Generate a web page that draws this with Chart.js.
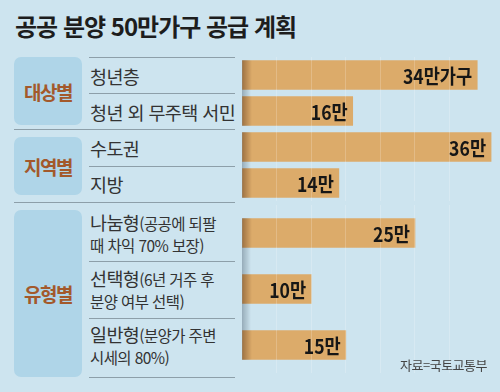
<!DOCTYPE html>
<html lang="ko">
<head>
<meta charset="utf-8">
<script src="https://cdn.jsdelivr.net/npm/chart.js@4"></script>
<style>
  body { margin: 0; background: #cde4ef; }
  #wrap { position: relative; width: 500px; height: 392px; overflow: hidden; background: #cde4ef; font-family: "Noto Sans CJK KR", sans-serif; color: #333; }
  .title { position: absolute; left: 15px; top: 11px; font-size: 24px; line-height: 30px; font-weight: 700; color: #1d1d1d; letter-spacing: -1px; white-space: nowrap; }
  .box { position: absolute; left: 14px; width: 68px; border-radius: 7px; background: #afd5e8; display: flex; align-items: center; justify-content: center; color: #a3592b; font-weight: 700; font-size: 19px; letter-spacing: -1.5px; }
  .sep { position: absolute; height: 1px; background: #8d9fa9; }
  .row { position: absolute; left: 90px; font-size: 18.5px; letter-spacing: -0.6px; line-height: 22px; white-space: nowrap; color: #333; }
  .row small { font-size: 15.5px; letter-spacing: -0.6px; }
  .plot { position: absolute; left: 242px; }
  .src { position: absolute; right: 13px; top: 356px; font-size: 13px; line-height: 18px; color: #444; letter-spacing: -0.5px; }
</style>
</head>
<body>
<div id="wrap">
  <div class="title">공공 분양 50만가구 공급 계획</div>
  <div class="plot" style="top:57px"><canvas id="c1" width="256" height="72"></canvas></div>
  <div class="plot" style="top:129px"><canvas id="c2" width="256" height="72"></canvas></div>
  <div class="plot" style="top:205px"><canvas id="c3" width="256" height="168"></canvas></div>
  <div class="src">자료=국토교통부</div>
</div>
<script>
// data
const groupNames = ['대상별', '지역별', '유형별'];
const targetCats = ['청년층', '청년 외 무주택 서민'];
const targetValues = [34, 16];
const regionCats = ['수도권', '지방'];
const regionValues = [36, 14];
const typeCats = ['나눔형', '선택형', '일반형'];
const typeNotes = [
    ['(공공에 되팔', '때 차익 70% 보장)'],
    ['(6년 거주 후', '분양 여부 선택)'],
    ['(분양가 주변', '시세의 80%)']
];
const typeValues = [25, 10, 15];
const firstUnit = '만가구';
const unit = '만';

const wrap = document.getElementById('wrap');

// layout pieces (boxes + separator rules)
const boxes = [[57, 125], [137, 195], [210, 377]];
const rules = [[57, 89], [93, 89], [129, 14], [166, 89], [202, 14], [261, 89], [318, 89], [377, 89]];

boxes.forEach((b, i) => {
    const el = document.createElement('div');
    el.className = 'box';
    el.style.top = b[0] + 'px';
    el.style.height = (b[1] - b[0]) + 'px';
    el.textContent = groupNames[i];
    wrap.appendChild(el);
});

rules.forEach(r => {
    const el = document.createElement('div');
    el.className = 'sep';
    el.style.top = r[0] + 'px';
    el.style.left = r[1] + 'px';
    el.style.width = (235 - r[1]) + 'px';
    wrap.appendChild(el);
});

function barFill(c) {
    const area = c.chart.chartArea;
    if (!area) return '#dcab6a';
    const g = c.chart.ctx.createLinearGradient(area.left, 0, area.left + 10, 0);
    g.addColorStop(0, '#9c7142');
    g.addColorStop(1, '#dcab6a');
    return g;
}

// grey shadow on the left edge between bars of one group
const shadowPlugin = {
    id: 'shadow',
    beforeDatasetsDraw(chart) {
        const bars = chart.getDatasetMeta(0).data;
        if (!bars.length) return;
        const ctx = chart.ctx;
        const left = chart.chartArea.left;
        const top = bars[0].y - bars[0].height / 2;
        const bottom = bars[bars.length - 1].y + bars[bars.length - 1].height / 2;
        const g = ctx.createLinearGradient(left, 0, left + 9, 0);
        g.addColorStop(0, 'rgba(85,105,120,0.45)');
        g.addColorStop(1, 'rgba(85,105,120,0)');
        ctx.save();
        ctx.fillStyle = g;
        ctx.fillRect(left, top, 9, bottom - top);
        ctx.restore();
    }
};

const valuePlugin = {
    id: 'values',
    afterDraw(chart) {
        const ctx = chart.ctx;
        const texts = chart.data.datasets[0].texts;
        chart.getDatasetMeta(0).data.forEach((bar, i) => {
            ctx.save();
            ctx.translate(bar.x - 5, bar.y + 1);
            ctx.scale(0.88, 1);
            ctx.font = 'bold 20px "Noto Sans CJK KR"';
            ctx.fillStyle = '#161616';
            ctx.textAlign = 'right';
            ctx.textBaseline = 'middle';
            ctx.fillText(texts[i], 0, 0);
            ctx.restore();
        });
    }
};

function makeChart(id, cats, values, texts) {
    return new Chart(document.getElementById(id), {
        type: 'bar',
        data: {
            labels: cats,
            datasets: [{
                data: values,
                texts: texts,
                backgroundColor: barFill,
                borderWidth: 0,
                barThickness: 29
            }]
        },
        options: {
            indexAxis: 'y',
            responsive: false,
            animation: false,
            layout: { padding: 0 },
            plugins: { legend: { display: false }, tooltip: { enabled: false } },
            scales: {
                x: {
                    min: 0,
                    max: 37,
                    ticks: { display: false, stepSize: 5 },
                    border: { display: false },
                    grid: {
                        drawTicks: false,
                        z: 1,
                        color: c => (c.tick && c.tick.value > 0 && c.tick.value % 5 === 0) ? 'rgba(255,255,255,0.2)' : 'transparent'
                    }
                },
                y: { display: false }
            }
        },
        plugins: [shadowPlugin, valuePlugin]
    });
}

function addLabels(chart, top, cats, notes) {
    const y = chart.scales.y;
    cats.forEach((cat, i) => {
        const center = top + y.getPixelForValue(i);
        const el = document.createElement('div');
        el.className = 'row';
        if (notes) {
            el.style.lineHeight = '21.5px';
            el.style.top = (center - 21.5) + 'px';
            el.innerHTML = cat + '<small>' + notes[i][0] + '</small><br><small>' + notes[i][1] + '</small>';
        } else {
            el.style.top = (center - 10) + 'px';
            el.textContent = cat;
        }
        wrap.appendChild(el);
    });
}

const c1 = makeChart('c1', targetCats, targetValues, targetValues.map((v, i) => v + (i === 0 ? firstUnit : unit)));
const c2 = makeChart('c2', regionCats, regionValues, regionValues.map(v => v + unit));
const c3 = makeChart('c3', typeCats, typeValues, typeValues.map(v => v + unit));

addLabels(c1, 57, targetCats);
addLabels(c2, 129, regionCats);
addLabels(c3, 205, typeCats, typeNotes);
</script>
</body>
</html>
